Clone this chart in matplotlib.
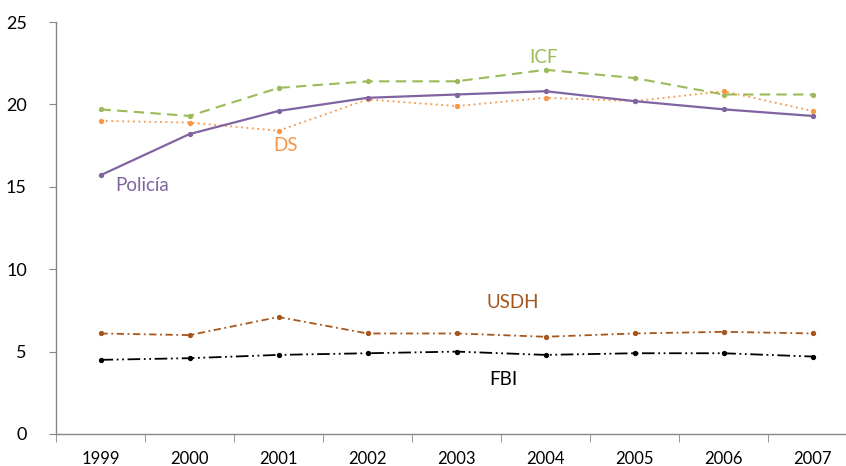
import matplotlib
matplotlib.use("Agg")
import matplotlib.pyplot as plt

years = ["1999", "2000", "2001", "2002", "2003", "2004", "2005", "2006", "2007"]
policia = [15.7, 18.2, 19.6, 20.4, 20.6, 20.8, 20.2, 19.7, 19.3]
icf = [19.7, 19.3, 21.0, 21.4, 21.4, 22.1, 21.6, 20.6, 20.6]
ds = [19.0, 18.9, 18.4, 20.3, 19.9, 20.4, 20.2, 20.8, 19.6]
usdh = [6.1, 6.0, 7.1, 6.1, 6.1, 5.9, 6.1, 6.2, 6.1]
fbi = [4.5, 4.6, 4.8, 4.9, 5.0, 4.8, 4.9, 4.9, 4.7]
yticks = [0, 5, 10, 15, 20, 25]

plt.rcParams['font.family'] = ['Lato', 'DejaVu Sans']

W, H = 846, 466
fig = plt.figure(figsize=(W/100, H/100), dpi=100)
ax = fig.add_axes([56/W, (H-434)/H, (857-56)/W, (434-22)/H])

x = list(range(len(years)))
c_pol = '#8064A2'
c_icf = '#9BBB59'
c_ds = '#F79646'
c_usdh = '#A5561C'
c_fbi = '#000000'

ax.plot(x, icf, color=c_icf, lw=1.5, ls=(0, (5, 3)), marker='o', ms=2.8)
ax.plot(x, ds, color=c_ds, lw=1.3, ls=(0, (1, 2)), marker='o', ms=2.8)
ax.plot(x, policia, color=c_pol, lw=1.6, ls='-', marker='o', ms=2.8)
ax.plot(x, usdh, color=c_usdh, lw=1.3, ls=(0, (4, 2, 1, 2)), marker='o', ms=2.8)
ax.plot(x, fbi, color=c_fbi, lw=1.3, ls=(0, (7, 2, 1, 2, 1, 2)), marker='o', ms=2.8)

ax.text(4.98, 22.85, 'ICF', color=c_icf, fontsize=13.5, ha='center', va='center')
ax.text(2.08, 17.5, 'DS', color=c_ds, fontsize=13.5, ha='center', va='center')
ax.text(0.47, 15.1, 'Policía', color=c_pol, fontsize=13.5, ha='center', va='center')
ax.text(4.63, 8.0, 'USDH', color=c_usdh, fontsize=13.5, ha='center', va='center')
ax.text(4.53, 3.3, 'FBI', color=c_fbi, fontsize=13.5, ha='center', va='center')

ax.set_xlim(-0.5, len(years) - 0.5)
ax.set_ylim(0, 25)
ax.set_yticks(yticks)
ax.set_yticklabels([str(v) for v in yticks], fontsize=13)
ax.set_xticks(x)
ax.set_xticklabels(years, fontsize=12)
ax.set_xticks([i - 0.5 for i in range(len(years) + 1)], minor=True)
ax.tick_params(axis='x', which='major', length=0, pad=12)
ax.tick_params(axis='x', which='minor', length=6, color='#888888', direction='out')
ax.tick_params(axis='y', length=5, color='#888888', direction='out', pad=16)
for s in ['top', 'right']:
    ax.spines[s].set_visible(False)
for s in ['left', 'bottom']:
    ax.spines[s].set_color('#888888')
    ax.spines[s].set_linewidth(1.0)

fig.savefig('out.png', dpi=100)
